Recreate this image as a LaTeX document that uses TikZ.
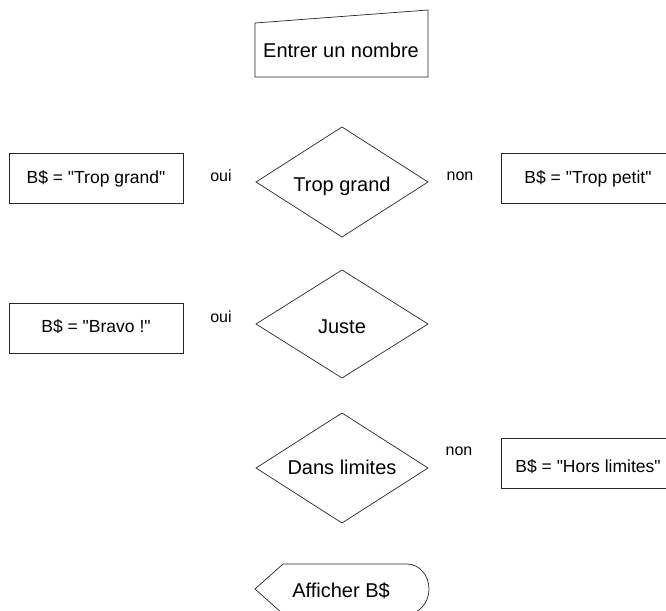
\documentclass[tikz,border=0pt]{standalone}
\usepackage{fontspec}
\setmainfont{Liberation Sans}[Ligatures=TeXOff]
\begin{document}
\begin{tikzpicture}[x=1pt,y=-1pt,
  shapeline/.style={draw=black!85, line width=0.7pt},
  bigtxt/.style={font=\fontsize{20}{24}\selectfont, inner sep=0pt, anchor=base},
  boxtxt/.style={font=\fontsize{17.5}{21}\selectfont, inner sep=0pt, anchor=base},
  lbltxt/.style={font=\fontsize{16}{19}\selectfont, inner sep=0pt, anchor=base}]
\useasboundingbox (0,0) rectangle (666,610);
\clip (0,0) rectangle (666,610);
% Entrer un nombre (manual input)
\draw[shapeline] (255,23) -- (428,10) -- (428,77) -- (255,77) -- cycle;
\node[bigtxt] (entrer) at (341,58) {Entrer un nombre};
% Trop grand diamond
\draw[shapeline] (256,182) -- (342,127) -- (428,182) -- (342,237) -- cycle;
\node[bigtxt] (tropgrand) at (342,191) {Trop grand};
\draw[shapeline] (9,153) rectangle (183,203);
\node[boxtxt] (btg) at (96,183) {B\$ = "Trop grand"};
\draw[shapeline] (501,153) rectangle (675,203);
\node[boxtxt] (btp) at (588,183) {B\$ = "Trop petit"};
\node[lbltxt] (oui1) at (221,181) {oui};
\node[lbltxt] (non1) at (460,180) {non};
% Juste diamond
\draw[shapeline] (256,324) -- (342,270) -- (428,324) -- (342,378) -- cycle;
\node[bigtxt] (juste) at (342,333) {Juste};
\draw[shapeline] (9,303) rectangle (183,353);
\node[boxtxt] (bbr) at (96,332) {B\$ = "Bravo !"};
\node[lbltxt] (oui2) at (221,322) {oui};
% Dans limites diamond
\draw[shapeline] (256,468) -- (342,413) -- (428,468) -- (342,523) -- cycle;
\node[bigtxt] (dans) at (342,474) {Dans limites};
\draw[shapeline] (501,438) rectangle (675,488);
\node[boxtxt] (bhl) at (588,472) {B\$ = "Hors limites"};
\node[lbltxt] (non2) at (459,455) {non};
% Afficher (display)
\draw[shapeline] (255,589) -- (283,564) -- (407,564)
  arc[start angle=-90, end angle=90, x radius=22, y radius=25]
  -- (283,614) -- cycle;
\node[bigtxt] (afficher) at (341,597) {Afficher B\$};
\end{tikzpicture}
\end{document}
